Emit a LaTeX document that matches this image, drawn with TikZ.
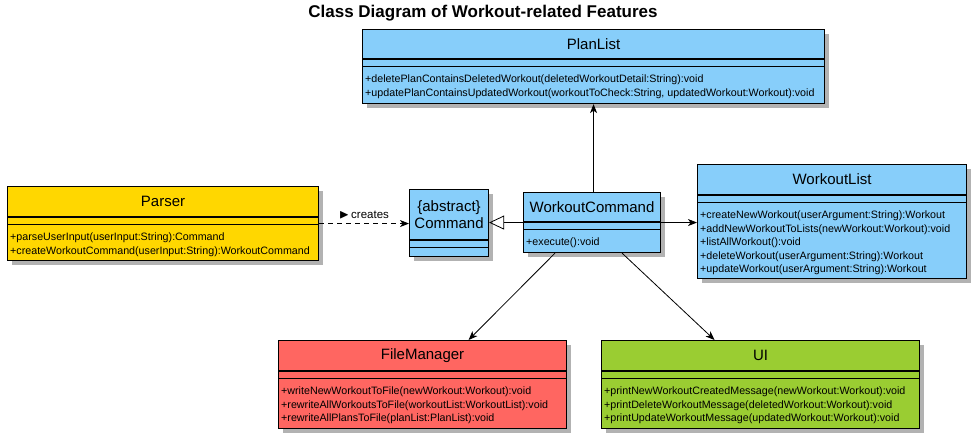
\documentclass[tikz,border=0pt]{standalone}
\usepackage{amssymb}
\usepackage{fontspec}
\setmainfont{Liberation Sans}
\usetikzlibrary{shapes,arrows,positioning}
\usetikzlibrary{arrows.meta}
\usetikzlibrary{calc,shadows}

\definecolor{skyblue}{RGB}{135,206,250}
\definecolor{parsergold}{RGB}{255,215,0}
\definecolor{filered}{RGB}{255,102,97}
\definecolor{uigreen}{RGB}{154,205,50}

% box, name, two separators, operations
\newcommand{\umlclass}[9]{%
  \node[classbox, fill=#2, minimum width=#5pt, minimum height=#6pt, anchor=north west] (#1) at (#3,#4) {};
  \node[classname] (#1-name) at ($(#1.north)+(0,-#7/2)$) {#8};
  \draw[sepline] ($(#1.north west)+(0,-#7)$) -- ($(#1.north east)+(0,-#7)$);
  \draw[sepline] ($(#1.north west)+(0,-#7-7.5)$) -- ($(#1.north east)+(0,-#7-7.5)$);
  \node[ops] (#1-ops) at ($(#1.north west)+(3,-#7-16)$) {#9};
}

\begin{document}
\begin{tikzpicture}[x=1pt, y=1pt,
    classbox/.style={draw, line width=1.1pt, rectangle, inner sep=0pt,
      drop shadow={shadow xshift=4pt, shadow yshift=-4pt, fill=black, opacity=0.3}},
    classname/.style={font=\fontsize{15}{17}\selectfont, align=center, inner sep=0pt},
    sepline/.style={line width=1.1pt},
    ops/.style={anchor=north west, align=left, inner sep=0pt, font=\fontsize{10.7}{13.4}\selectfont},
    assoc/.style={line width=0.8pt, -{Stealth[length=9pt, width=7pt, inset=2.5pt]}},
    gen/.style={line width=0.8pt, -{Triangle[open, length=15pt, width=14pt]}},
    creates/.style={assoc, dashed, dash pattern=on 5pt off 4pt}]

  \useasboundingbox (0,0) rectangle (979,-441);

  \node[font=\bfseries\fontsize{17}{19}\selectfont] (title) at (483,-13) {Class Diagram of Workout-related Features};

  \umlclass{plan}{skyblue}{362}{-29}{462}{74}{30}{PlanList}
    {+deletePlanContainsDeletedWorkout(deletedWorkoutDetail:String):void\\
     +updatePlanContainsUpdatedWorkout(workoutToCheck:String, updatedWorkout:Workout):void}
  \umlclass{parser}{parsergold}{7}{-186}{311}{74}{31}{Parser}
    {+parseUserInput(userInput:String):Command\\
     +createWorkoutCommand(userInput:String):WorkoutCommand}
  \umlclass{cmd}{skyblue}{409}{-189}{79}{67}{51}{\{abstract\}\\Command}{}
  \umlclass{wcmd}{skyblue}{523}{-192}{137}{60}{30}{WorkoutCommand}
    {+execute():void}
  \umlclass{wlist}{skyblue}{697}{-164}{269}{114}{31}{WorkoutList}
    {+createNewWorkout(userArgument:String):Workout\\
     +addNewWorkoutToLists(newWorkout:Workout):void\\
     +listAllWorkout():void\\
     +deleteWorkout(userArgument:String):Workout\\
     +updateWorkout(userArgument:String):Workout}
  \umlclass{fm}{filered}{278}{-340}{288}{88}{31}{FileManager}
    {+writeNewWorkoutToFile(newWorkout:Workout):void\\
     +rewriteAllWorkoutsToFile(workoutList:WorkoutList):void\\
     +rewriteAllPlansToFile(planList:PlanList):void}
  \umlclass{ui}{uigreen}{601}{-340}{318}{88}{31}{UI}
    {+printNewWorkoutCreatedMessage(newWorkout:Workout):void\\
     +printDeleteWorkoutMessage(deletedWorkout:Workout):void\\
     +printUpdateWorkoutMessage(updatedWorkout:Workout):void}

  % connectors
  \draw[creates] (parser.east) -- (parser.east -| cmd.west)
    node[midway, above=1pt, font=\fontsize{11.5}{13}\selectfont] (lbl) {{\fontsize{13}{13}\selectfont$\blacktriangleright$}\,creates};
  \draw[gen] (wcmd.west) -- (wcmd.west -| cmd.east);
  \coordinate (wtop) at ($(wcmd.north)+(1.5,0)$);
  \draw[assoc] (wtop) -- (wtop |- plan.south);
  \draw[assoc] (wcmd.east) -- (wcmd.east -| wlist.west);
  \draw[assoc] ($(wcmd.south)+(-37,0)$) -- ($(fm.north)+(46,0)$);
  \draw[assoc] ($(wcmd.south)+(30,0)$) -- ($(ui.north)+(-46,0)$);
\end{tikzpicture}
\end{document}
